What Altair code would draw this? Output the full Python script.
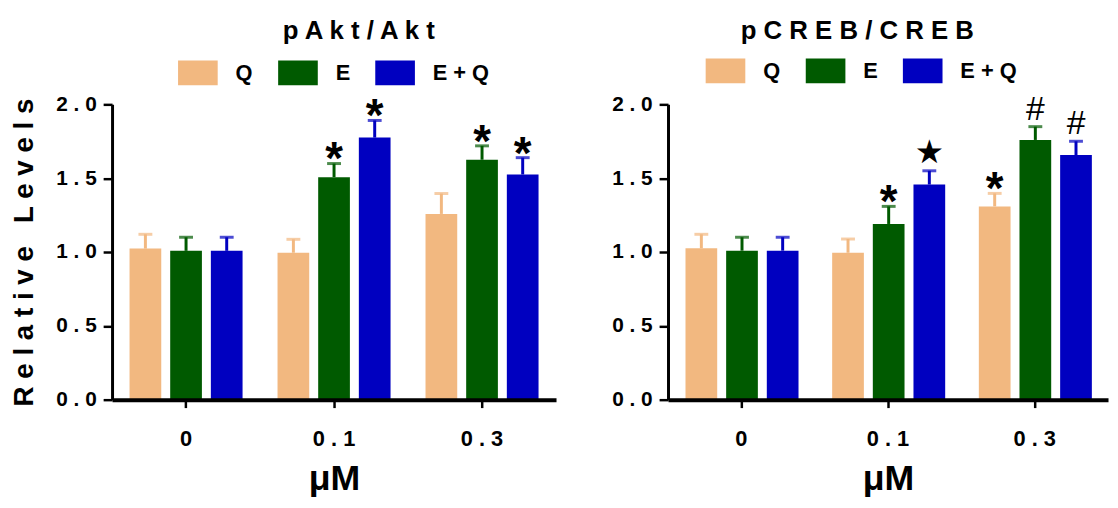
import altair as alt
import pandas as pd

groups = ["0", "0.1", "0.3"]
treatments = ["Q", "E", "E+Q"]
colors = ["#F2B880", "#005A00", "#0000C0"]

# values in group-major order: (0: Q, E, E+Q), (0.1: Q, E, E+Q), (0.3: Q, E, E+Q)
akt_mean = [1.023, 1.008, 1.008, 0.995, 1.507, 1.775, 1.258, 1.625, 1.525]
akt_err = [1.12, 1.10, 1.10, 1.086, 1.599, 1.891, 1.396, 1.719, 1.639]
akt_mark = ["", "", "", "", "*", "*", "", "*", "*"]

creb_mean = [1.025, 1.009, 1.009, 0.995, 1.19, 1.457, 1.309, 1.759, 1.657]
creb_err = [1.12, 1.10, 1.10, 1.088, 1.309, 1.55, 1.397, 1.849, 1.75]
creb_mark = ["", "", "", "", "*", "\u2605", "*", "#", "#"]

FONT = "Liberation Sans"
SPACED = "join(split(datum.label, ''), ' ')"


def sp(s):
    return " ".join(s)


def make_df(means, errs, marks):
    rows = []
    for gi, g in enumerate(groups):
        for ti, t in enumerate(treatments):
            k = gi * 3 + ti
            rows.append(dict(dose=g, treat=t, mean=means[k], err=errs[k], mark=marks[k]))
    return pd.DataFrame(rows)


def panel(df, title, dx, toff, lx, ly, width, ytitle):
    base = alt.Chart(df)
    x = alt.X(
        "dose:N", sort=groups,
        scale=alt.Scale(paddingInner=0, paddingOuter=0),
        axis=alt.Axis(title="\u03bcM", labelAngle=0, labelExpr=SPACED,
                      labelFontSize=22, labelPadding=21, titleFontSize=36,
                      titlePadding=13, tickSize=8, tickWidth=2.5,
                      domainWidth=4, zindex=1),
    )
    xo = alt.XOffset("treat:N", sort=treatments,
                     scale=alt.Scale(paddingInner=0.22, paddingOuter=0.43))
    yaxis = alt.Axis(title=ytitle, values=[0, 0.5, 1, 1.5, 2], format=".1f",
                     labelExpr=SPACED, labelFontSize=21, labelPadding=7,
                     tickSize=9, tickWidth=2.5, domainWidth=3,
                     titleFontSize=28, titlePadding=17, zindex=1)
    yscale = alt.Scale(domain=[0, 2], nice=False)
    color = alt.Color(
        "treat:N", sort=treatments,
        scale=alt.Scale(domain=treatments, range=colors),
        legend=alt.Legend(orient="none", legendX=lx, legendY=ly,
                          direction="horizontal", title=None,
                          symbolType="M-1,-0.625H1V0.625H-1Z", symbolSize=1600,
                          symbolStrokeWidth=0, symbolOpacity=1,
                          labelFontSize=22, labelFontWeight="bold",
                          labelOffset=18, columnPadding=25, padding=0,
                          labelExpr=SPACED),
    )
    bars = base.mark_bar().encode(
        x=x, xOffset=xo, y=alt.Y("mean:Q", scale=yscale, axis=yaxis), color=color)
    rule = base.mark_rule(strokeWidth=3).encode(
        x=x, xOffset=xo, y=alt.Y("mean:Q", scale=yscale, axis=yaxis),
        y2="err:Q", color=color)
    cap = base.mark_tick(thickness=3, size=14).encode(
        x=x, xOffset=xo, y=alt.Y("err:Q", scale=yscale, axis=yaxis), color=color)
    ast = base.transform_filter(alt.datum.mark == "*").mark_text(
        font=FONT, fontSize=46, fontWeight="bold", baseline="alphabetic", dy=11,
        color="black").encode(
        x=x, xOffset=xo, y=alt.Y("err:Q", scale=yscale, axis=yaxis), text="mark:N")
    star = base.transform_filter(alt.datum.mark == "\u2605").mark_text(
        font="DejaVu Sans", fontSize=33, baseline="alphabetic", dy=-8,
        color="black").encode(
        x=x, xOffset=xo, y=alt.Y("err:Q", scale=yscale, axis=yaxis), text="mark:N")
    hsh = base.transform_filter(alt.datum.mark == "#").mark_text(
        font=FONT, fontSize=34, baseline="alphabetic", dy=-7,
        color="black").encode(
        x=x, xOffset=xo, y=alt.Y("err:Q", scale=yscale, axis=yaxis), text="mark:N")
    return alt.layer(bars, rule, cap, ast, star, hsh).properties(
        width=width, height=298,
        title=alt.TitleParams(text=sp(title), fontSize=26, fontWeight="bold",
                              font=FONT, anchor="middle", frame="group",
                              dx=dx, offset=toff, baseline="alphabetic"),
    )


left = panel(make_df(akt_mean, akt_err, akt_mark), "pAkt/Akt", 25, -12, 66.6, -52,
             448, "R e l a t i v e \u00a0 L e v e l s")
right = panel(make_df(creb_mean, creb_err, creb_mark), "pCREB/CREB", -31, -14, 38, -54,
              444, None)

chart = alt.hconcat(left, right, spacing=56).resolve_scale(
    color="independent"
).properties(
    padding={"left": 3, "top": 8, "right": 2, "bottom": 0}
).configure(font=FONT).configure_view(stroke=None).configure_axis(
    grid=False, domainColor="black", tickColor="black", labelColor="black",
    titleColor="black", labelFont=FONT, titleFont=FONT,
    labelFontWeight="bold", titleFontWeight="bold",
).configure_legend(labelFont=FONT, labelColor="black")

chart.save("out.html", embed_options={"renderer": "svg", "actions": False})
